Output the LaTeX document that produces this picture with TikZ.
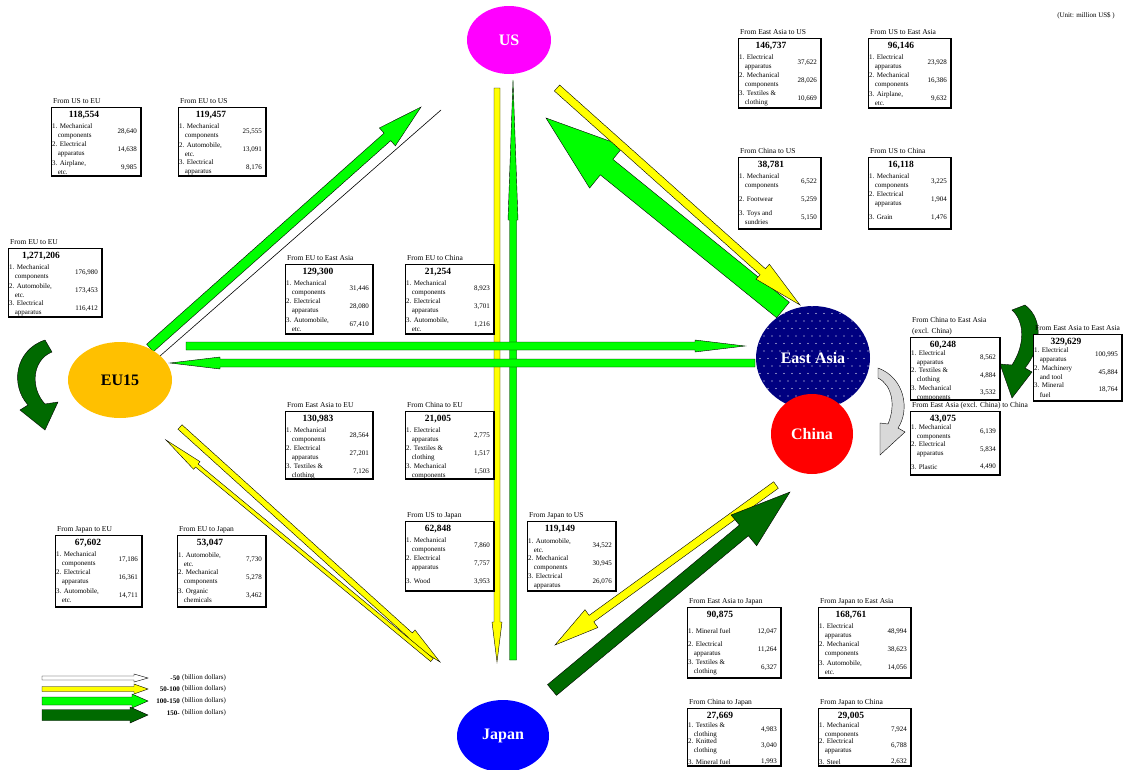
\documentclass[tikz,border=0pt]{standalone}
\usepackage{fontspec}
\setmainfont{Liberation Serif}
\usetikzlibrary{calc,shapes.geometric}

\definecolor{eugold}{HTML}{FFC000}
\definecolor{usmag}{HTML}{FF00FF}
\definecolor{eanavy}{HTML}{000080}
\definecolor{cnred}{HTML}{FF0000}
\definecolor{jpblue}{HTML}{0000FF}
\definecolor{flowyellow}{HTML}{FFFF00}
\definecolor{flowgreen}{HTML}{00FF00}
\definecolor{flowdark}{HTML}{006A00}
\definecolor{flowgray}{HTML}{D9D9D9}

\tikzset{
  boxtitle/.style={font=\fontsize{7.5}{9}\selectfont, inner sep=0pt, anchor=base west},
  boxtotal/.style={font=\bfseries\fontsize{9.5}{10}\selectfont, inner sep=0pt},
  boxitem/.style={font=\fontsize{7}{9.2}\selectfont, inner sep=0pt, anchor=west, align=left},
  boxvalue/.style={font=\fontsize{7}{8}\selectfont, inner sep=0pt, anchor=east},
  boxframe/.style={draw, fill=white, line width=0.7pt, inner sep=0pt, anchor=north west},
  region/.style={ellipse, draw=none, font=\bfseries\fontsize{16}{18}\selectfont, inner sep=0pt},
  flow/.style={draw=black, line width=0.4pt, line join=miter},
  wflow/.style={flow, fill=white},
  yflow/.style={flow, fill=flowyellow},
  gflow/.style={flow, fill=flowgreen},
  dflow/.style={flow, fill=flowdark},
  legendtext/.style={font=\fontsize{7}{8}\selectfont, inner sep=0pt},
}

% slot layout inside a trade box
\newcommand\slotoff{24.5}
\newcommand\slotgap{18}
\newcommand\nxt{\\\hspace*{0.8em}}

% #1 name, #2 x, #3 y (top), #4 width, #5 height, #6 title, #7 total
\newcommand\tbox[7]{%
  \def\bx{#2}\def\by{#3}\def\bw{#4}%
  \node[boxframe, minimum width=#4pt, minimum height=#5pt] (#1) at (#2,#3) {};
  \draw[line width=1.6pt] (#1.south west) -- (#1.south east) -- (#1.north east);
  \node[boxtitle] (#1-title) at (#2+2,#3-4) {#6};
  \node[boxtotal] (#1-total) at (#2+33,#3+8.5) {#7};
}
% #1 box name, #2 slot, #3 label, #4 value
\newcommand\titem[4]{%
  \node[boxitem] (#1-l#2) at (\bx+1, \by+\slotoff+\slotgap*#2-\slotgap) {#3};
  \node[boxvalue] (#1-v#2) at (\bx+\bw-3, \by+\slotoff+\slotgap*#2-\slotgap) {#4};
}

% block arrow: #1 style, #2 tail, #3 tip, #4 half body, #5 half head, #6 head length
\newcommand\blockarrow[6]{%
  \coordinate (hb) at ($(#3)!#6pt!(#2)$);
  \filldraw[#1] ($(#2)!#4pt!90:(#3)$) -- ($(hb)!#4pt!90:(#3)$) -- ($(hb)!#5pt!90:(#3)$)
    -- (#3) -- ($(hb)!#5pt!-90:(#3)$) -- ($(hb)!#4pt!-90:(#3)$) -- ($(#2)!#4pt!-90:(#3)$) -- cycle;
}

\begin{document}
\begin{tikzpicture}[x=1pt, y=-1pt]
\useasboundingbox[fill=white] (0,0) rectangle (1128,769);

% ---------------- flows ----------------
% EU -- US
\coordinate (euus-s) at (150,348); \coordinate (euus-e) at (421,107);
\blockarrow{gflow}{euus-s}{euus-e}{5}{12}{45}
\coordinate (useu-s) at (441,110); \coordinate (useu-e) at (160,356);
\draw[line width=0.6pt] (useu-s) -- (useu-e);
% US -- Japan
\coordinate (usjp-s) at (497,88); \coordinate (usjp-e) at (497,662);
\blockarrow{yflow}{usjp-s}{usjp-e}{3}{5}{40}
\coordinate (jpus-s) at (513,660); \coordinate (jpus-e) at (513,80);
\blockarrow{gflow}{jpus-s}{jpus-e}{3.5}{5}{140}
% EU -- East Asia
\coordinate (euea-s) at (186,346); \coordinate (euea-e) at (745,346);
\blockarrow{gflow}{euea-s}{euea-e}{4}{6}{50}
\coordinate (eaeu-s) at (755,363); \coordinate (eaeu-e) at (170,363);
\blockarrow{gflow}{eaeu-s}{eaeu-e}{4}{6}{50}
% East Asia -- US
\coordinate (eaus-s) at (783,310); \coordinate (eaus-e) at (546,118);
\blockarrow{gflow}{eaus-s}{eaus-e}{10}{27}{78}
\coordinate (usea-s) at (557,88); \coordinate (usea-e) at (800,305);
\blockarrow{yflow}{usea-s}{usea-e}{4}{10}{50}
% East Asia -- Japan
\coordinate (eajp-s) at (776,485); \coordinate (eajp-e) at (555,645);
\blockarrow{yflow}{eajp-s}{eajp-e}{4}{11}{45}
\coordinate (jpea-s) at (552,690); \coordinate (jpea-e) at (790,492);
\blockarrow{dflow}{jpea-s}{jpea-e}{7}{20}{60}
% EU -- Japan
\coordinate (eujp-s) at (180,427); \coordinate (eujp-e) at (440,662);
\blockarrow{yflow}{eujp-s}{eujp-e}{3}{7}{40}
\coordinate (jpeu-s) at (432,660); \coordinate (jpeu-e) at (166,440);
\blockarrow{yflow}{jpeu-s}{jpeu-e}{2}{5}{40}

% flows inside a region
\filldraw[dflow] (45,340) .. controls (15,350) and (10,385) .. (28,405) -- (20,410) -- (45,430)
  -- (58,402) -- (45,404) .. controls (30,388) and (32,360) .. (52,352) -- cycle;
\filldraw[dflow] (1025,305) .. controls (1045,320) and (1040,350) .. (1025,368) -- (1032,372)
  -- (1012,398) -- (1000,364) -- (1012,365) .. controls (1025,345) and (1025,322) .. (1012,310) -- cycle;
\filldraw[flow, fill=flowgray] (878,368) .. controls (905,378) and (910,410) .. (898,428) -- (905,432)
  -- (880,455) -- (880,423) -- (888,424) .. controls (896,405) and (892,385) .. (878,378) -- cycle;

% ---------------- regions ----------------
\node[region, fill=usmag, text=white, minimum width=84pt, minimum height=68pt] (us) at (509,40) {US};
\node[region, fill=eugold, minimum width=104pt, minimum height=76pt] (eu) at (120,380) {EU15};
\node[region, fill=eanavy, minimum width=114pt, minimum height=104pt] (ea) at (813,358) {};
\begin{scope}
  \clip (813,358) ellipse (57 and 52);
  \foreach \i in {0,...,15} \foreach \j in {0,...,14}
    \fill[white] ({756+\i*8+mod(\j,2)*4},{306+\j*7.5}) circle (0.6);
\end{scope}
\node[region, text=white] (ea-label) at (813,358) {East Asia};
\node[region, fill=cnred, text=white, minimum width=82pt, minimum height=80pt] (cn) at (812,434) {China};
\node[region, fill=jpblue, text=white, minimum width=92pt, minimum height=72pt] (jp) at (503,736) {Japan};

% ---------------- trade boxes ----------------
\tbox{useu}{51}{107}{89}{68}{From US to EU}{118,554}
\titem{useu}{1}{1. Mechanical\nxt components}{28,640}
\titem{useu}{2}{2. Electrical\nxt apparatus}{14,638}
\titem{useu}{3}{3. Airplane,\nxt etc.}{9,985}

\tbox{euus}{178}{107}{87}{68}{From EU to US}{119,457}
\titem{euus}{1}{1. Mechanical\nxt components}{25,555}
\titem{euus}{2}{2. Automobile,\nxt etc.}{13,091}
\titem{euus}{3}{3. Electrical\nxt apparatus}{8,176}

\tbox{eueu}{8}{248}{93}{68}{From EU to EU}{1,271,206}
\titem{eueu}{1}{1. Mechanical\nxt components}{176,980}
\titem{eueu}{2}{2. Automobile,\nxt etc.}{173,453}
\titem{eueu}{3}{3. Electrical\nxt apparatus}{116,412}

\tbox{euea}{285}{264}{87}{69}{From EU to East Asia}{129,300}
\titem{euea}{1}{1. Mechanical\nxt components}{31,446}
\titem{euea}{2}{2. Electrical\nxt apparatus}{28,080}
\titem{euea}{3}{3. Automobile,\nxt etc.}{67,410}

\tbox{eucn}{405}{264}{88}{69}{From EU to China}{21,254}
\titem{eucn}{1}{1. Mechanical\nxt components}{8,923}
\titem{eucn}{2}{2. Electrical\nxt apparatus}{3,701}
\titem{eucn}{3}{3. Automobile,\nxt etc.}{1,216}

\tbox{eaus}{738}{38}{82}{69}{From East Asia to US}{146,737}
\titem{eaus}{1}{1. Electrical\nxt apparatus}{37,622}
\titem{eaus}{2}{2. Mechanical\nxt components}{28,026}
\titem{eaus}{3}{3. Textiles \&\nxt clothing}{10,669}

\tbox{usea}{868}{38}{82}{69}{From US to East Asia}{96,146}
\titem{usea}{1}{1. Electrical\nxt apparatus}{23,928}
\titem{usea}{2}{2. Mechanical\nxt components}{16,386}
\titem{usea}{3}{3. Airplane,\nxt etc.}{9,632}

\tbox{cnus}{738}{157}{82}{71}{From China to US}{38,781}
\titem{cnus}{1}{1. Mechanical\nxt components}{6,522}
\titem{cnus}{2}{2. Footwear}{5,259}
\titem{cnus}{3}{3. Toys and\nxt sundries}{5,150}

\tbox{uscn}{868}{157}{82}{71}{From US to China}{16,118}
\titem{uscn}{1}{1. Mechanical\nxt components}{3,225}
\titem{uscn}{2}{2. Electrical\nxt apparatus}{1,904}
\titem{uscn}{3}{3. Grain}{1,476}

\renewcommand\slotoff{21}
\renewcommand\slotgap{17.5}
\tbox{cnea}{910}{337}{89}{62}{(excl. China)}{60,248}
\node[boxtitle] (cnea-title2) at (912,322) {From China to East Asia};
\titem{cnea}{1}{1. Electrical\nxt apparatus}{8,562}
\titem{cnea}{2}{2. Textiles \&\nxt clothing}{4,884}
\titem{cnea}{3}{3. Mechanical\nxt components}{3,532}

\tbox{eaea}{1033}{334}{88}{66}{From East Asia to East Asia}{329,629}
\titem{eaea}{1}{1. Electrical\nxt apparatus}{100,995}
\titem{eaea}{2}{2. Machinery\nxt and tool}{45,884}
\titem{eaea}{3}{3. Mineral\nxt fuel}{18,764}

\tbox{eacn}{910}{411}{89}{63}{From East Asia (excl. China) to China}{43,075}
\titem{eacn}{1}{1. Mechanical\nxt components}{6,139}
\titem{eacn}{2}{2. Electrical\nxt apparatus}{5,834}
\titem{eacn}{3}{3. Plastic}{4,490}
\renewcommand\slotoff{24.5}
\renewcommand\slotgap{18}

\tbox{eaeu}{285}{411}{87}{67}{From East Asia to EU}{130,983}
\titem{eaeu}{1}{1. Mechanical\nxt components}{28,564}
\titem{eaeu}{2}{2. Electrical\nxt apparatus}{27,201}
\titem{eaeu}{3}{3. Textiles \&\nxt clothing}{7,126}

\tbox{cneu}{405}{411}{88}{67}{From China to EU}{21,005}
\titem{cneu}{1}{1. Electrical\nxt apparatus}{2,775}
\titem{cneu}{2}{2. Textiles \&\nxt clothing}{1,517}
\titem{cneu}{3}{3. Mechanical\nxt components}{1,503}

\tbox{usjp}{405}{521}{88}{69}{From US to Japan}{62,848}
\titem{usjp}{1}{1. Mechanical\nxt components}{7,860}
\titem{usjp}{2}{2. Electrical\nxt apparatus}{7,757}
\titem{usjp}{3}{3. Wood}{3,953}

\tbox{jpus}{527}{521}{88}{69}{From Japan to US}{119,149}
\titem{jpus}{1}{1. Automobile,\nxt etc.}{34,522}
\titem{jpus}{2}{2. Mechanical\nxt components}{30,945}
\titem{jpus}{3}{3. Electrical\nxt apparatus}{26,076}

\tbox{jpeu}{55}{535}{86}{71}{From Japan to EU}{67,602}
\titem{jpeu}{1}{1. Mechanical\nxt components}{17,186}
\titem{jpeu}{2}{2. Electrical\nxt apparatus}{16,361}
\titem{jpeu}{3}{3. Automobile,\nxt etc.}{14,711}

\tbox{eujp}{177}{535}{88}{71}{From EU to Japan}{53,047}
\titem{eujp}{1}{1. Automobile,\nxt etc.}{7,730}
\titem{eujp}{2}{2. Mechanical\nxt components}{5,278}
\titem{eujp}{3}{3. Organic\nxt chemicals}{3,462}

\tbox{eajp}{687}{607}{93}{70}{From East Asia to Japan}{90,875}
\titem{eajp}{1}{1. Mineral fuel}{12,047}
\titem{eajp}{2}{2. Electrical\nxt apparatus}{11,264}
\titem{eajp}{3}{3. Textiles \&\nxt clothing}{6,327}

\tbox{jpea}{818}{607}{92}{70}{From Japan to East Asia}{168,761}
\titem{jpea}{1}{1. Electrical\nxt apparatus}{48,994}
\titem{jpea}{2}{2. Mechanical\nxt components}{38,623}
\titem{jpea}{3}{3. Automobile,\nxt etc.}{14,056}

\renewcommand\slotoff{22}
\renewcommand\slotgap{16}
\tbox{cnjp}{687}{708}{93}{57}{From China to Japan}{27,669}
\titem{cnjp}{1}{1. Textiles \&\nxt clothing}{4,983}
\titem{cnjp}{2}{2. Knitted\nxt clothing}{3,040}
\titem{cnjp}{3}{3. Mineral fuel}{1,993}

\tbox{jpcn}{818}{708}{92}{57}{From Japan to China}{29,005}
\titem{jpcn}{1}{1. Mechanical\nxt components}{7,924}
\titem{jpcn}{2}{2. Electrical\nxt apparatus}{6,788}
\titem{jpcn}{3}{3. Steel}{2,632}

% ---------------- legend ----------------
\coordinate (lg1s) at (42,678); \coordinate (lg1e) at (148,678);
\blockarrow{wflow}{lg1s}{lg1e}{2}{4}{14}
\coordinate (lg2s) at (42,689); \coordinate (lg2e) at (148,689);
\blockarrow{yflow}{lg2s}{lg2e}{2.5}{5}{14}
\coordinate (lg3s) at (42,701); \coordinate (lg3e) at (148,701);
\blockarrow{gflow}{lg3s}{lg3e}{4}{7}{16}
\coordinate (lg4s) at (42,715); \coordinate (lg4e) at (148,715);
\blockarrow{dflow}{lg4s}{lg4e}{5.5}{8}{18}
\node[legendtext, anchor=east, font=\bfseries\fontsize{7}{8}\selectfont] (lg1n) at (180,678) {-50};
\node[legendtext, anchor=east, font=\bfseries\fontsize{7}{8}\selectfont] (lg2n) at (180,689) {50-100};
\node[legendtext, anchor=east, font=\bfseries\fontsize{7}{8}\selectfont] (lg3n) at (180,701) {100-150};
\node[legendtext, anchor=east, font=\bfseries\fontsize{7}{8}\selectfont] (lg4n) at (180,713) {150-};
\node[legendtext, anchor=west] (lg1t) at (182,678) {(billion dollars)};
\node[legendtext, anchor=west] (lg2t) at (182,689) {(billion dollars)};
\node[legendtext, anchor=west] (lg3t) at (182,701) {(billion dollars)};
\node[legendtext, anchor=west] (lg4t) at (182,713) {(billion dollars)};

\node[legendtext, anchor=east] (unit) at (1115,16) {(Unit: million US\$ )};
\end{tikzpicture}
\end{document}
